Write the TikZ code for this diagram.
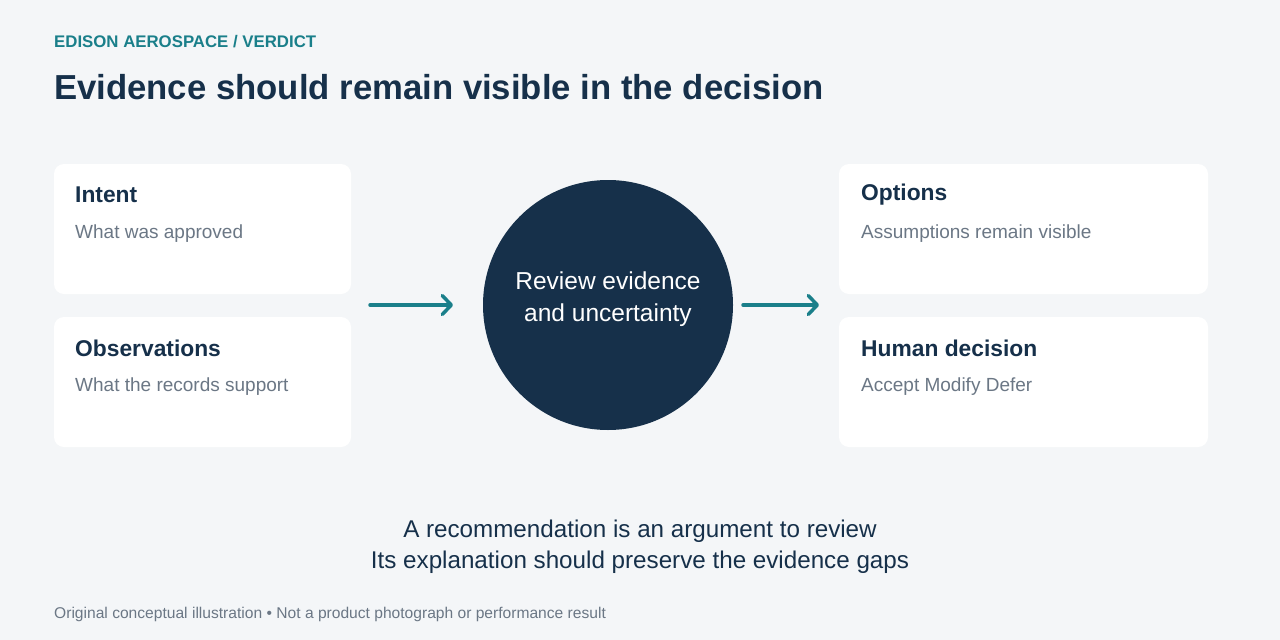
\documentclass[tikz,border=0pt]{standalone}
\usepackage{fontspec}
\setmainfont{Liberation Sans}
\usetikzlibrary{arrows.meta}
\definecolor{bg}{HTML}{F4F6F8}
\definecolor{navy}{HTML}{16304A}
\definecolor{teal}{HTML}{1A7F8A}
\definecolor{gray}{HTML}{6B7785}
\begin{document}
\begin{tikzpicture}[x=1pt,y=-1pt,every node/.style={inner sep=0pt},
  card/.style={fill=white,rounded corners=10pt,draw=none},
  ttl/.style={anchor=west,text=navy,font=\fontsize{22.8}{26}\selectfont\bfseries},
  sub/.style={anchor=west,text=gray,font=\fontsize{19}{22}\selectfont},
  arr/.style={draw=teal,line width=3.5pt,line cap=round,-{Straight Barb[length=9pt,width=19pt,line cap=round,line join=round]}}]
\fill[bg] (0,0) rectangle (1280,640);
\useasboundingbox (0,0) rectangle (1280,640);
\node[anchor=west,text=teal,font=\fontsize{16.8}{20}\selectfont\bfseries] (hdr) at (54,42) {EDISON AEROSPACE / VERDICT};
\node[anchor=west,text=navy,font=\fontsize{34.7}{40}\selectfont\bfseries] (title) at (54,87) {Evidence should remain visible in the decision};
\path[card] (54,164) rectangle (351,294);
\path[card] (54,317) rectangle (351,447);
\path[card] (839,164) rectangle (1208,294);
\path[card] (839,317) rectangle (1208,447);
\node[ttl] (t1) at (75,195) {Intent};
\node[sub] (s1) at (75,234) {What was approved};
\node[ttl] (t2) at (75,348) {Observations};
\node[sub] (s2) at (75,387) {What the records support};
\node[ttl] (t3) at (861,195) {Options};
\node[sub] (s3) at (861,234) {Assumptions remain visible};
\node[ttl] (t4) at (861,348) {Human decision};
\node[sub] (s4) at (861,387) {Accept Modify Defer};
\node[circle,fill=navy,minimum size=250pt] (c) at (608,305) {};
\node[text=white,align=center,font=\fontsize{24.5}{32}\selectfont] (ct) at (608,299) {Review evidence\\and uncertainty};
\coordinate (a1) at (370,305); \coordinate (a2) at (453,305);
\coordinate (b1) at (743,305); \coordinate (b2) at (819,305);
\draw[arr] (a1) -- (a2);
\draw[arr] (b1) -- (b2);
\node[text=navy,align=center,font=\fontsize{24.2}{31}\selectfont] (bt) at (640,547) {A recommendation is an argument to review\\Its explanation should preserve the evidence gaps};
\node[anchor=west,text=gray,font=\fontsize{15.6}{18}\selectfont] (ft) at (54,614) {Original conceptual illustration • Not a product photograph or performance result};
\end{tikzpicture}
\end{document}
